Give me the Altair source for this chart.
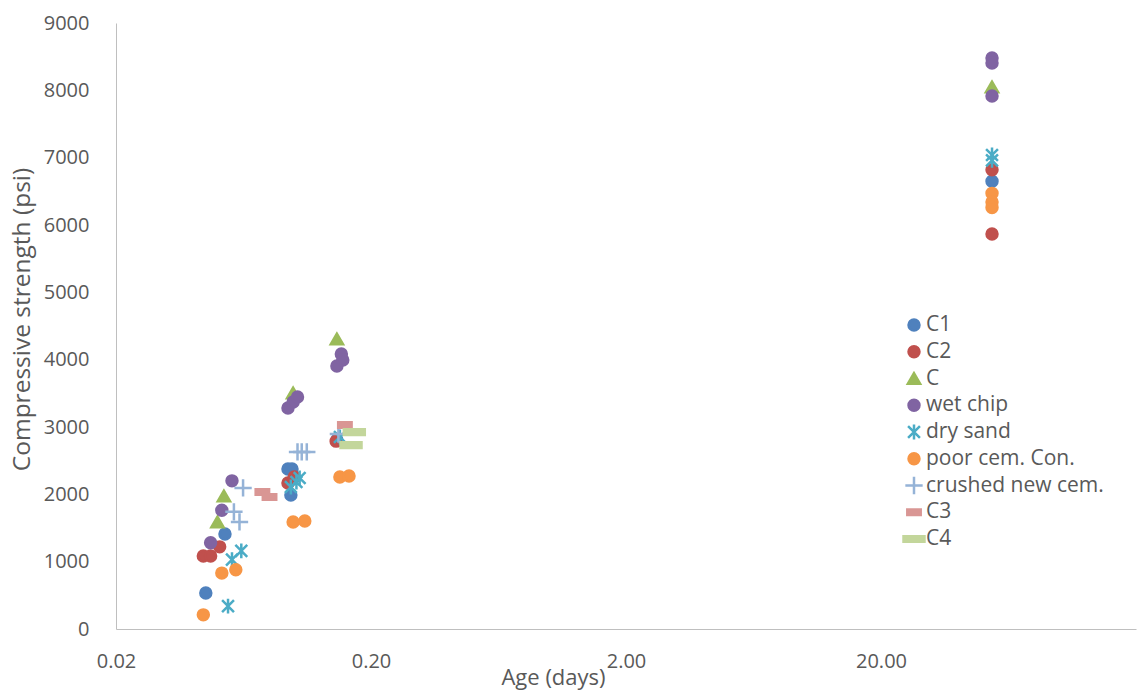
import altair as alt
import pandas as pd

# Series names, in drawing order (later series are drawn on top)
series_names = ["C1", "C2", "C", "wet chip", "dry sand", "poor cem. Con.",
                "crushed new cem.", "C3", "C4"]

# Age (days) and compressive strength (psi) for each mix
c1_age = [0.045, 0.0535, 0.0945, 0.098, 0.097, 0.147, 54.5]
c1_psi = [535, 1410, 2376, 2376, 1990, 2806, 6650]

c2_age = [0.044, 0.047, 0.051, 0.0945, 0.100, 0.146, 54.5, 54.5]
c2_psi = [1085, 1085, 1220, 2168, 2257, 2790, 6820, 5866]

c_age = [0.050, 0.053, 0.099, 0.147, 54.5]
c_psi = [1590, 1975, 3505, 4307, 8049]

wet_age = [0.047, 0.052, 0.057, 0.0945, 0.099, 0.103, 0.147, 0.153, 0.155, 54.5, 54.5, 54.5]
wet_psi = [1280, 1765, 2200, 3282, 3371, 3445, 3906, 4084, 3995, 8480, 8405, 7915]

dry_age = [0.055, 0.057, 0.062, 0.097, 0.102, 0.105, 0.151, 54.5, 54.5]
dry_psi = [340, 1030, 1160, 2109, 2183, 2242, 2851, 7040, 6960]

poor_age = [0.044, 0.052, 0.059, 0.099, 0.110, 0.151, 0.164, 54.5, 54.5, 54.5]
poor_psi = [210, 830, 880, 1589, 1604, 2257, 2272, 6470, 6340, 6260]

crushed_age = [0.063, 0.058, 0.061, 0.103, 0.107, 0.112, 0.149]
crushed_psi = [2095, 1740, 1590, 2630, 2630, 2630, 2896]

c3_age = [0.075, 0.080, 0.158]
c3_psi = [2035, 1960, 3030]

c4_age = [0.172, 0.167]
c4_psi = [2925, 2732]

ages = [c1_age, c2_age, c_age, wet_age, dry_age, poor_age, crushed_age, c3_age, c4_age]
psis = [c1_psi, c2_psi, c_psi, wet_psi, dry_psi, poor_psi, crushed_psi, c3_psi, c4_psi]

rows = []
order = 0
for name, a_list, p_list in zip(series_names, ages, psis):
    for a, p in zip(a_list, p_list):
        rows.append({"series": name, "age": a, "psi": p, "order": order})
        order += 1
df = pd.DataFrame(rows)

colors = ["#4F81BD", "#C0504D", "#9BBB59", "#8064A2", "#4BACC6",
          "#F79646", "#95B3D7", "#D99694", "#C3D69B"]

asterisk = "M-0.8,-0.8L0.8,0.8M-0.8,0.8L0.8,-0.8M0,-1L0,1"
plus = "M-1,0L1,0M0,-1L0,1"
short_dash = "M-1,-0.4H1V0.4H-1Z"
long_dash = "M-1,-0.27H1V0.27H-1Z"
shapes = ["circle", "circle", "triangle-up", "circle", asterisk,
          "circle", plus, short_dash, long_dash]
sizes = [120, 120, 150, 120, 220, 120, 300, 180, 440]

font = "Open Sans"
label_color = "#595959"

legend = alt.Legend(
    title=None, orient="none", legendX=786, legendY=291,
    labelFont=font, labelFontSize=21, labelColor=label_color, labelLimit=400,
    clipHeight=22, rowPadding=4.75, padding=0, labelOffset=0, symbolStrokeWidth=2.5,
)

chart = alt.Chart(df).mark_point(filled=False, opacity=1, strokeWidth=2.5).encode(
    x=alt.X("age:Q", title="Age (days)",
            scale=alt.Scale(type="log", domain=[0.02, 200], nice=False),
            axis=alt.Axis(values=[0.02, 0.2, 2, 20], format=".2f",
                          labelPadding=22, labelOverlap=False, labelFlush=False,
                          titleX=437, titleY=48, titleBaseline="middle",
                          titleAnchor="start", titleAlign="center", titleFontSize=22)),
    y=alt.Y("psi:Q", title="Compressive strength (psi)",
            scale=alt.Scale(domain=[0, 9000], nice=False),
            axis=alt.Axis(values=list(range(0, 9001, 1000)), format="d", labelPadding=27,
                          titleX=-94, titleY=296, titleBaseline="middle",
                          titleAlign="center", titleFontSize=24.5)),
    fill=alt.Color("series:N", scale=alt.Scale(domain=series_names, range=colors), legend=legend),
    stroke=alt.Color("series:N", scale=alt.Scale(domain=series_names, range=colors), legend=legend),
    shape=alt.Shape("series:N", scale=alt.Scale(domain=series_names, range=shapes), legend=legend),
    size=alt.Size("series:N", scale=alt.Scale(type="ordinal", domain=series_names, range=sizes),
                  legend=legend),
    order=alt.Order("order:Q"),
).properties(
    width=1020, height=606,
    autosize=alt.AutoSizeParams(type="none"),
    padding={"left": 116, "top": 23, "right": 1, "bottom": 62},
    background="white",
).configure_view(
    stroke=None
).configure_axis(
    domainColor="#BFBFBF", domainWidth=1, ticks=False, grid=False,
    labelFont=font, labelFontSize=20, labelColor=label_color,
    titleFont=font, titleColor=label_color, titleFontWeight="normal",
)

chart.save("out.html", embed_options={"renderer": "svg", "actions": False})
